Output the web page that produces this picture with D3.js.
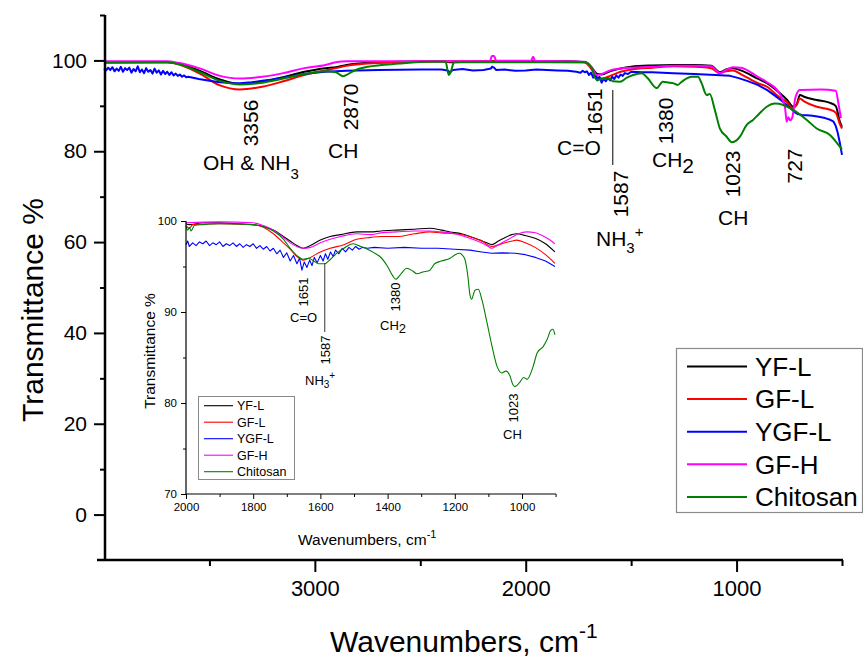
<!DOCTYPE html>
<html>
<head>
<meta charset="utf-8">
<script src="https://cdn.jsdelivr.net/npm/d3@7/dist/d3.min.js"></script>
<style>
  body { margin: 0; background: #fff; }
  svg { display: block; }
  text { font-family: "Liberation Sans", Arial, Helvetica, sans-serif; fill: #000; }
</style>
</head>
<body>
<svg id="chart" width="863" height="666"></svg>
<script>
// ---- series meta ----
const seriesNames  = ["YF-L", "GF-L", "YGF-L", "GF-H", "Chitosan"];
const seriesColors = ["#000000", "#ff0000", "#0000ff", "#ff00ff", "#008000"];
// the YGF-L trace is noisy, so it is drawn point to point
const seriesSmooth = [true, true, false, true, true];

// ---- full-range spectra: [wavenumber cm-1, transmittance %] ----
const mainYFL = [[4000,99.6],[3700,99.6],[3650,99.3],[3550,97.8],[3450,95.8],[3356,94.8],[3250,95.3],[3150,96.3],[3050,97.5],[2950,98.3],[2900,98.5],[2850,99.0],[2750,99.5],[2600,99.7],[2400,99.8],[2360,99.6],[2200,99.8],[1800,99.8],[1720,99.6],[1690,98.6],[1660,97.0],[1640,96.9],[1600,97.6],[1550,98.2],[1500,98.6],[1400,98.9],[1300,99.0],[1200,99.0],[1120,98.8],[1080,97.4],[1050,98.0],[1017,98.3],[980,97.8],[900,96.0],[856,95.0],[800,93.0],[760,91.3],[732,89.8],[715,90.3],[700,92.4],[680,92.0],[620,91.3],[560,90.7],[530,90.0],[510,86.5],[500,85.4]];
const mainGFL = [[4000,99.6],[3700,99.6],[3650,99.2],[3550,97.2],[3450,94.5],[3356,93.6],[3250,94.2],[3150,95.4],[3050,96.8],[2950,97.8],[2900,98.3],[2850,98.8],[2750,99.3],[2600,99.6],[2400,99.8],[1720,99.6],[1690,98.2],[1660,96.3],[1640,96.0],[1600,96.6],[1550,97.5],[1500,98.0],[1400,98.4],[1300,98.7],[1200,98.6],[1120,98.3],[1080,97.2],[1050,97.6],[1017,97.8],[980,97.0],[900,95.0],[856,94.2],[800,92.0],[760,90.8],[735,89.5],[715,90.2],[700,91.6],[680,91.0],[620,89.8],[560,89.2],[530,88.5],[510,86.0],[500,85.0]];
const mainYGFL = [[4000,98.2],[3990,97.8],[3980,98.4],[3970,97.9],[3960,98.5],[3950,97.6],[3940,98.2],[3930,97.7],[3920,98.6],[3910,97.5],[3900,98.3],[3890,97.9],[3880,98.4],[3870,97.3],[3860,98.1],[3850,97.6],[3840,98.7],[3830,97.4],[3820,98.0],[3810,97.2],[3800,98.3],[3790,97.5],[3780,97.9],[3770,97.1],[3760,98.2],[3750,97.3],[3740,97.8],[3730,96.9],[3720,97.7],[3710,97.0],[3700,97.5],[3690,96.8],[3680,97.4],[3670,96.7],[3660,97.1],[3650,96.6],[3640,96.9],[3630,96.4],[3620,96.7],[3610,96.3],[3600,96.4],[3550,95.9],[3500,95.5],[3450,95.2],[3400,95.05],[3356,95.0],[3300,95.2],[3250,95.5],[3200,95.8],[3150,96.2],[3100,96.6],[3050,97.0],[3000,97.3],[2950,97.5],[2900,97.6],[2850,97.7],[2700,97.9],[2500,98.0],[2400,98.0],[2370,97.8],[2360,97.4],[2345,97.9],[2300,98.1],[2250,97.8],[2200,97.9],[2165,98.2],[2160,98.6],[2150,98.4],[2140,97.9],[2100,98.0],[2050,97.7],[2000,97.8],[1950,98.0],[1900,97.9],[1850,97.8],[1800,97.7],[1760,97.5],[1740,97.3],[1730,97.7],[1720,97.4],[1710,97.6],[1700,96.8],[1690,97.3],[1680,96.2],[1670,96.8],[1660,95.6],[1650,96.4],[1640,95.1],[1630,96.0],[1620,95.4],[1610,96.1],[1600,95.6],[1590,96.4],[1580,95.9],[1570,96.7],[1560,96.2],[1550,96.9],[1540,96.6],[1530,97.2],[1515,97.0],[1500,97.5],[1450,97.4],[1400,97.4],[1300,97.2],[1200,97.0],[1100,96.8],[1030,96.6],[990,96.1],[950,95.5],[900,94.6],[856,93.5],[820,92.3],[780,90.9],[760,90.1],[740,89.3],[725,88.6],[710,88.2],[690,88.0],[665,87.9],[640,87.8],[610,87.6],[580,87.3],[560,87.0],[540,86.5],[530,85.6],[520,84.0],[510,81.8],[500,79.2]];
const mainGFH = [[4000,99.8],[3700,99.8],[3650,99.5],[3550,98.3],[3450,96.6],[3356,96.0],[3250,96.4],[3150,97.2],[3050,98.3],[2950,99.0],[2900,99.6],[2850,99.8],[2600,99.8],[2170,99.8],[2160,101.0],[2150,101.0],[2140,99.9],[1975,99.9],[1965,100.8],[1955,99.9],[1720,99.7],[1690,98.6],[1662,96.8],[1640,97.0],[1600,97.8],[1550,98.2],[1491,98.4],[1400,98.6],[1300,98.8],[1200,98.8],[1120,98.7],[1079,97.2],[1050,97.9],[1017,98.5],[980,98.4],[900,96.4],[856,95.2],[800,93.0],[770,89.5],[762,86.5],[755,87.5],[745,86.8],[735,87.6],[720,92.0],[700,93.5],[600,93.6],[530,93.3],[515,90.0],[505,87.3]];
const mainChitosan = [[4000,99.5],[3700,99.6],[3650,99.2],[3550,97.5],[3450,95.5],[3356,94.7],[3250,95.1],[3150,96.0],[3050,97.0],[2950,97.6],[2900,97.4],[2880,96.8],[2867,96.5],[2850,96.8],[2820,97.6],[2750,98.6],[2600,99.3],[2450,99.7],[2380,99.7],[2365,96.8],[2355,97.5],[2340,99.6],[1720,99.6],[1690,98.6],[1664,95.7],[1640,95.9],[1600,96.0],[1587,95.4],[1553,95.3],[1520,96.2],[1491,96.8],[1450,97.2],[1420,96.0],[1379,93.9],[1350,95.3],[1320,95.1],[1302,95.0],[1280,94.6],[1260,95.3],[1213,96.4],[1183,96.4],[1166,95.0],[1142,92.4],[1127,92.6],[1103,89.1],[1079,85.0],[1047,83.2],[1023,82.0],[1000,82.4],[984,83.2],[952,85.8],[922,86.9],[898,88.0],[857,89.8],[818,90.5],[778,90.2],[732,89.1],[667,86.9],[620,85.0],[557,83.6],[510,81.0],[500,80.4]];

// ---- 2000-900 cm-1 detail ----
const insetYFL = [[2000,99.7],[1990,99.6],[1950,99.8],[1900,99.8],[1850,99.7],[1800,99.6],[1770,99.4],[1740,99.0],[1710,98.3],[1690,97.8],[1670,97.3],[1651,97.0],[1630,97.3],[1600,97.9],[1571,98.3],[1540,98.5],[1492,98.8],[1450,98.8],[1420,98.9],[1373,99.0],[1320,99.1],[1274,99.2],[1240,99.0],[1214,98.8],[1180,98.6],[1155,98.3],[1125,97.9],[1105,97.6],[1090,97.4],[1070,97.8],[1050,98.2],[1030,98.5],[1016,98.6],[990,98.4],[961,98.1],[930,97.5],[902,96.6]];
const insetGFL = [[2000,99.5],[1990,99.2],[1980,99.6],[1900,99.7],[1800,99.6],[1770,99.3],[1740,98.6],[1710,97.6],[1690,96.9],[1670,96.1],[1651,95.7],[1630,96.0],[1600,96.6],[1571,97.0],[1530,97.4],[1492,98.0],[1450,98.2],[1420,98.3],[1373,98.3],[1320,98.6],[1274,98.8],[1240,98.7],[1200,98.6],[1155,98.3],[1120,97.8],[1090,97.2],[1060,97.5],[1030,97.8],[1016,97.9],[990,97.6],[961,97.1],[930,96.3],[902,95.35]];
const insetYGFL = [[2000,97.4],[1995,97.8],[1990,97.2],[1980,97.6],[1970,97.3],[1960,97.7],[1950,97.5],[1940,97.8],[1930,97.3],[1920,97.6],[1910,97.4],[1900,97.7],[1890,97.2],[1880,97.5],[1870,97.3],[1860,97.6],[1850,97.2],[1840,97.5],[1830,97.1],[1820,97.4],[1810,97.2],[1800,97.5],[1790,97.0],[1780,97.3],[1770,96.9],[1760,97.2],[1750,96.7],[1740,97.0],[1730,96.4],[1720,96.8],[1710,96.0],[1700,96.5],[1690,95.6],[1680,96.2],[1670,95.3],[1662,95.9],[1655,94.6],[1648,95.5],[1640,94.9],[1632,95.7],[1625,95.1],[1618,96.0],[1610,95.4],[1600,96.2],[1592,95.6],[1585,96.4],[1578,95.8],[1570,96.6],[1562,96.1],[1555,96.8],[1545,96.4],[1535,97.0],[1525,96.6],[1515,97.1],[1505,96.8],[1495,97.2],[1485,96.9],[1475,97.1],[1460,97.0],[1440,97.1],[1400,97.0],[1350,97.1],[1300,97.0],[1250,97.0],[1200,96.9],[1155,96.8],[1120,96.6],[1090,96.45],[1060,96.5],[1020,96.45],[990,96.3],[960,96.0],[930,95.6],[902,95.0]];
const insetGFH = [[2000,99.8],[1900,99.9],[1800,99.8],[1770,99.5],[1740,99.0],[1710,98.2],[1690,97.6],[1670,97.2],[1651,97.0],[1630,97.1],[1600,97.6],[1571,98.0],[1540,98.3],[1492,98.6],[1450,98.5],[1420,98.7],[1373,98.8],[1320,98.9],[1274,98.9],[1240,98.8],[1200,98.6],[1155,98.1],[1120,97.6],[1100,97.2],[1090,97.0],[1070,97.4],[1050,97.8],[1030,98.2],[1010,98.6],[986,98.8],[960,98.7],[940,98.4],[920,98.0],[902,97.5]];
const insetChitosan = [[2000,99.4],[1995,99.0],[1990,99.3],[1985,98.9],[1975,99.5],[1950,99.6],[1900,99.7],[1800,99.6],[1770,99.4],[1740,98.9],[1710,98.0],[1690,97.0],[1670,96.2],[1651,95.8],[1635,95.9],[1620,95.6],[1605,95.3],[1587,95.3],[1570,95.8],[1550,96.5],[1530,97.0],[1503,97.5],[1480,97.2],[1460,96.9],[1440,96.5],[1423,96.1],[1400,95.0],[1385,94.0],[1376,93.6],[1360,94.2],[1343,94.8],[1325,94.5],[1313,94.2],[1295,94.4],[1274,94.6],[1260,95.3],[1240,95.6],[1214,95.9],[1199,96.3],[1185,96.45],[1179,96.3],[1170,95.8],[1161,93.9],[1155,91.9],[1150,91.4],[1140,92.4],[1130,92.5],[1119,91.3],[1104,88.8],[1089,86.2],[1074,84.0],[1060,83.3],[1048,83.5],[1036,83.0],[1027,82.0],[1021,81.8],[1006,82.3],[995,82.8],[985,82.6],[967,84.0],[955,85.5],[937,86.2],[925,87.0],[914,88.0],[908,88.1],[902,87.5]];

const mainSeries  = [mainYFL, mainGFL, mainYGFL, mainGFH, mainChitosan];
const insetSeries = [insetYFL, insetGFL, insetYGFL, insetGFH, insetChitosan];

// ---- ticks ----
const mainXMajor = [3000, 2000, 1000];
const mainXMinor = [3500, 2500, 1500, 500];
const mainYMajor = [0, 20, 40, 60, 80, 100];
const mainYMinor = [10, 30, 50, 70, 90, 110];
const insetXMajor = [2000, 1800, 1600, 1400, 1200, 1000];
const insetXMinor = [1900, 1700, 1500, 1300, 1100, 900];
const insetYMajor = [70, 80, 90, 100];
const insetYMinor = [75, 85, 95];

// ---- band annotations (rotated wavenumber labels) ----
const mainBands = [
  {label: "3356", bx: 258, cy: 123},
  {label: "2870", bx: 358, cy: 107},
  {label: "1651", bx: 602, cy: 112},
  {label: "1587", bx: 628, cy: 194},
  {label: "1380", bx: 673, cy: 121},
  {label: "1023", bx: 740, cy: 174},
  {label: "727",  bx: 802, cy: 166}
];
const insetBands = [
  {label: "1651", bx: 308, cy: 292},
  {label: "1587", bx: 330, cy: 350},
  {label: "1380", bx: 400, cy: 297},
  {label: "1023", bx: 518, cy: 408}
];

const svg = d3.select("#chart");
const FONT = '"Liberation Sans", Arial, sans-serif';

// ================= main panel =================
const x = d3.scaleLinear().domain([4000, 500]).range([104, 842]);
const y = d3.scaleLinear().domain([-10, 110]).range([560, 15]);

const lineSmooth = d3.line().x(d => x(d[0])).y(d => y(d[1])).curve(d3.curveMonotoneX);
const lineRaw    = d3.line().x(d => x(d[0])).y(d => y(d[1]));

const gMain = svg.append("g");
mainSeries.forEach((s, i) => {
  gMain.append("path").datum(s)
    .attr("d", seriesSmooth[i] ? lineSmooth : lineRaw).attr("fill", "none")
    .attr("stroke", seriesColors[i]).attr("stroke-width", 2)
    .attr("stroke-linejoin", "round");
});

// x axis
const xAxisG = svg.append("g").attr("transform", "translate(0,560)");
xAxisG.call(d3.axisBottom(x).tickValues(mainXMajor).tickSize(12).tickPadding(8).tickFormat(d3.format("d")));
xAxisG.append("g").call(d3.axisBottom(x).tickValues(mainXMinor).tickSize(6).tickFormat(""));
xAxisG.selectAll(".domain").remove();
xAxisG.selectAll("line").attr("stroke", "#000").attr("stroke-width", 2);
xAxisG.selectAll("text").attr("font-size", 22).attr("fill", "#000").style("font-family", FONT);
svg.append("line").attr("x1", 97).attr("x2", 843).attr("y1", 560).attr("y2", 560)
  .attr("stroke", "#000").attr("stroke-width", 2.5);

// y axis
const yAxisG = svg.append("g").attr("transform", "translate(105,0)");
yAxisG.call(d3.axisLeft(y).tickValues(mainYMajor).tickSize(11).tickPadding(7).tickFormat(d3.format("d")));
yAxisG.append("g").call(d3.axisLeft(y).tickValues(mainYMinor).tickSize(5).tickFormat(""));
yAxisG.selectAll(".domain").remove();
yAxisG.selectAll("line").attr("stroke", "#000").attr("stroke-width", 2);
yAxisG.selectAll("text").attr("font-size", 21).attr("fill", "#000").style("font-family", FONT);
svg.append("line").attr("x1", 105).attr("x2", 105).attr("y1", 15).attr("y2", 561)
  .attr("stroke", "#000").attr("stroke-width", 2.5);

// axis titles
svg.append("text").attr("transform", "translate(43,310) rotate(-90)")
  .attr("text-anchor", "middle").attr("font-size", 30).text("Transmittance %");
const xt = svg.append("text").attr("x", 330).attr("y", 652).attr("font-size", 30);
xt.append("tspan").text("Wavenumbers, cm");
xt.append("tspan").attr("dy", -14).attr("font-size", 21).text("-1");

// band annotations
const ann = svg.append("g");
mainBands.forEach(b => {
  ann.append("text").attr("transform", `translate(${b.bx},${b.cy}) rotate(-90)`)
    .attr("text-anchor", "middle").attr("font-size", 21).text(b.label);
});
const oh = ann.append("text").attr("x", 203).attr("y", 170).attr("font-size", 21);
oh.append("tspan").text("OH & NH");
oh.append("tspan").attr("dy", 9).attr("font-size", 15).text("3");
ann.append("text").attr("x", 328).attr("y", 158).attr("font-size", 21).text("CH");
ann.append("text").attr("x", 557).attr("y", 155).attr("font-size", 21).text("C=O");
ann.append("line").attr("x1", x(1587)).attr("x2", x(1587)).attr("y1", 90).attr("y2", 165)
  .attr("stroke", "#000").attr("stroke-width", 1);
const nh = ann.append("text").attr("x", 596).attr("y", 246).attr("font-size", 21);
nh.append("tspan").text("NH");
nh.append("tspan").attr("dy", 7).attr("font-size", 15).text("3");
nh.append("tspan").attr("dy", -16).attr("font-size", 15).text("+");
const ch2 = ann.append("text").attr("x", 652).attr("y", 167).attr("font-size", 21);
ch2.append("tspan").text("CH");
ch2.append("tspan").attr("dy", 6).attr("font-size", 21).text("2");
ann.append("text").attr("x", 718).attr("y", 225).attr("font-size", 21).text("CH");

// legend
const leg = svg.append("g");
leg.append("rect").attr("x", 676.5).attr("y", 348.5).attr("width", 186).attr("height", 164)
  .attr("fill", "#fff").attr("stroke", "#8a8a8a").attr("stroke-width", 1.2);
seriesNames.forEach((n, i) => {
  const cy = 366.5 + i * 32.6;
  leg.append("line").attr("x1", 687).attr("x2", 747).attr("y1", cy).attr("y2", cy)
    .attr("stroke", seriesColors[i]).attr("stroke-width", 2);
  leg.append("text").attr("x", 755).attr("y", cy).attr("dy", "0.36em")
    .attr("font-size", 26).text(n);
});

// ================= inset panel =================
const xi = d3.scaleLinear().domain([2000, 900]).range([186, 555.6]);
const yi = d3.scaleLinear().domain([70, 100]).range([494, 221]);
const lineISmooth = d3.line().x(d => xi(d[0])).y(d => yi(d[1])).curve(d3.curveMonotoneX);
const lineIRaw    = d3.line().x(d => xi(d[0])).y(d => yi(d[1]));

const gIn = svg.append("g");
insetSeries.forEach((s, i) => {
  gIn.append("path").datum(s)
    .attr("d", seriesSmooth[i] ? lineISmooth : lineIRaw).attr("fill", "none")
    .attr("stroke", seriesColors[i]).attr("stroke-width", 1.1)
    .attr("stroke-linejoin", "round");
});

const xiG = svg.append("g").attr("transform", "translate(0,494)");
xiG.call(d3.axisBottom(xi).tickValues(insetXMajor).tickSize(5).tickPadding(4).tickFormat(d3.format("d")));
xiG.append("g").call(d3.axisBottom(xi).tickValues(insetXMinor).tickSize(3).tickFormat(""));
xiG.selectAll(".domain").remove();
xiG.selectAll("line").attr("stroke", "#000").attr("stroke-width", 1);
xiG.selectAll("text").attr("font-size", 11.5).attr("fill", "#000").style("font-family", FONT);
svg.append("line").attr("x1", 186).attr("x2", 556).attr("y1", 494).attr("y2", 494)
  .attr("stroke", "#000").attr("stroke-width", 1.2);

const yiG = svg.append("g").attr("transform", "translate(186,0)");
yiG.call(d3.axisLeft(yi).tickValues(insetYMajor).tickSize(5).tickPadding(4).tickFormat(d3.format("d")));
yiG.append("g").call(d3.axisLeft(yi).tickValues(insetYMinor).tickSize(3).tickFormat(""));
yiG.selectAll(".domain").remove();
yiG.selectAll("line").attr("stroke", "#000").attr("stroke-width", 1);
yiG.selectAll("text").attr("font-size", 11.5).attr("fill", "#000").style("font-family", FONT);
svg.append("line").attr("x1", 186).attr("x2", 186).attr("y1", 221).attr("y2", 494.5)
  .attr("stroke", "#000").attr("stroke-width", 1.2);

svg.append("text").attr("transform", "translate(155,351) rotate(-90)")
  .attr("text-anchor", "middle").attr("font-size", 15.5).text("Transmittance %");
const xit = svg.append("text").attr("x", 298).attr("y", 545).attr("font-size", 15.5);
xit.append("tspan").text("Wavenumbers, cm");
xit.append("tspan").attr("dy", -7).attr("font-size", 11).text("-1");

// inset band annotations
insetBands.forEach(b => {
  ann.append("text").attr("transform", `translate(${b.bx},${b.cy}) rotate(-90)`)
    .attr("text-anchor", "middle").attr("font-size", 13).text(b.label);
});
ann.append("text").attr("x", 290).attr("y", 322).attr("font-size", 13).text("C=O");
ann.append("line").attr("x1", xi(1587)).attr("x2", xi(1587)).attr("y1", 263).attr("y2", 332)
  .attr("stroke", "#000").attr("stroke-width", 0.8);
const nhi = ann.append("text").attr("x", 305).attr("y", 385).attr("font-size", 13);
nhi.append("tspan").text("NH");
nhi.append("tspan").attr("dy", 3).attr("font-size", 10).text("3");
nhi.append("tspan").attr("dy", -9).attr("font-size", 10).text("+");
const ch2i = ann.append("text").attr("x", 380).attr("y", 330).attr("font-size", 13);
ch2i.append("tspan").text("CH");
ch2i.append("tspan").attr("dy", 3).attr("font-size", 13).text("2");
ann.append("text").attr("x", 503).attr("y", 439).attr("font-size", 13).text("CH");

// inset legend
const legI = svg.append("g");
legI.append("rect").attr("x", 198.5).attr("y", 396.5).attr("width", 96).attr("height", 83)
  .attr("fill", "#fff").attr("stroke", "#8a8a8a").attr("stroke-width", 1);
seriesNames.forEach((n, i) => {
  const cy = 405.7 + i * 16.5;
  legI.append("line").attr("x1", 204).attr("x2", 233).attr("y1", cy).attr("y2", cy)
    .attr("stroke", seriesColors[i]).attr("stroke-width", 1.1);
  legI.append("text").attr("x", 237).attr("y", cy).attr("dy", "0.36em")
    .attr("font-size", 12.5).text(n);
});
</script>
</body>
</html>
